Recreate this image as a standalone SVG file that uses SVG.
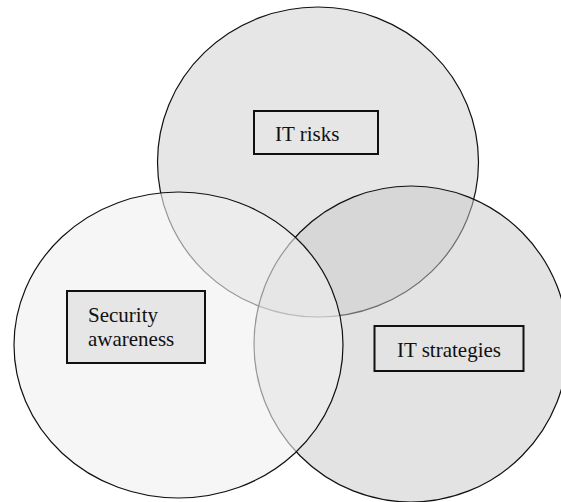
<svg xmlns="http://www.w3.org/2000/svg" width="561" height="502" viewBox="0 0 561 502">
  <style>
    .set { stroke: #111; stroke-width: 1.2; }
    .label-box { stroke: #111; stroke-width: 2; }
    .label { font-family: "Liberation Serif", "Times New Roman", serif; font-size: 21px; fill: #111; }
  </style>
  <rect width="561" height="502" fill="#fff"/>

  <!-- overlapping sets: drawn top, right, left so later outlines stay crisp -->
  <g id="set-it-risks">
    <ellipse class="set" cx="318" cy="162" rx="160.5" ry="155" fill="#e6e6e6"/>
  </g>
  <g id="set-it-strategies">
    <ellipse class="set" cx="411" cy="344" rx="157" ry="158" fill="#c8c8c8" fill-opacity="0.5"/>
  </g>
  <g id="set-security-awareness">
    <ellipse class="set" cx="178.5" cy="345" rx="164.5" ry="153" fill="#f0f0f0" fill-opacity="0.6"/>
  </g>

  <!-- labels -->
  <g id="label-it-risks">
    <rect class="label-box" x="254" y="111" width="124" height="43" fill="none"/>
    <text class="label" x="275" y="141">IT risks</text>
  </g>
  <g id="label-security-awareness">
    <rect class="label-box" x="67" y="291" width="138" height="72" fill="#e6e6e6"/>
    <text class="label" x="88" y="322">Security</text>
    <text class="label" x="88" y="346">awareness</text>
  </g>
  <g id="label-it-strategies">
    <rect class="label-box" x="374.5" y="326" width="149" height="45" fill="none"/>
    <text class="label" x="397" y="357">IT strategies</text>
  </g>
</svg>
